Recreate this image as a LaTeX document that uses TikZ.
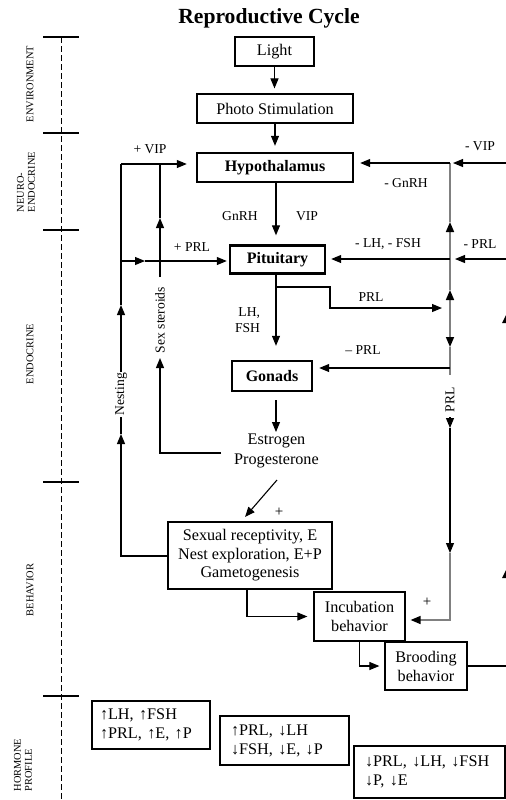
\documentclass[tikz,border=0pt]{standalone}
\usepackage{fontspec}
\setmainfont{Liberation Serif}
\usetikzlibrary{arrows.meta,calc}
\begin{document}
\begin{tikzpicture}[x=0.5pt,y=-0.5pt,
 box/.style={draw,line width=0.6pt,inner sep=0pt,align=center,font=\fontsize{8.1}{9.4}\selectfont},
 bbox/.style={draw,line width=1.2pt,inner sep=0pt,font=\bfseries\fontsize{8}{9.6}\selectfont},
 hbox/.style={draw,line width=0.6pt,inner ysep=0pt,align=left,font=\fontsize{8.1}{9.5}\selectfont},
 lbl/.style={inner sep=0pt,font=\fontsize{6.8}{8}\selectfont},
 side/.style={inner sep=0pt,rotate=90,align=left,font=\fontsize{5.2}{5.4}\selectfont},
 arr/.style={-{Triangle[length=5pt,width=4pt]}},
 garr/.style={-{Triangle[length=5pt,width=4pt,color=black]}},
 ln/.style={line width=0.55pt},
 gl/.style={line width=0.75pt,draw=black!50},
 tick/.style={line width=1pt},
]
\useasboundingbox (0,0) rectangle (506,800);
% title
\node[inner sep=0pt,font=\bfseries\fontsize{10.8}{13}\selectfont] (title) at (269,18) {Reproductive Cycle};
% timeline
\draw[line width=0.5pt,dash pattern=on 3pt off 1.5pt] (61,37) -- (61,800);
\foreach \yy/\nm in {37/t1,133/t2,230/t3,482/t4,696/t5}{
  \coordinate (\nm) at (61,\yy);
  \draw[tick] ([xshift=-9pt]\nm) -- ([xshift=9pt]\nm);
}
\node[side] (env) at (30,84) {ENVIRONMENT};
\node[side] (neuro) at (26,182) {NEURO-\\ENDOCRINE};
\node[side] (endo) at (30,354) {ENDOCRINE};
\node[side] (beh) at (30,590) {BEHAVIOR};
\node[side] (hp) at (23,765) {HORMONE\\PROFILE};
% boxes
\node[box,minimum width=39.5pt,minimum height=14.5pt] (light) at (274.5,51.5) {Light};
\node[box,minimum width=78pt,minimum height=14.5pt] (photo) at (275,108.5) {Photo Stimulation};
\node[bbox,minimum width=78pt,minimum height=14.5pt] (hypo) at (275,167.5) {Hypothalamus};
\node[bbox,minimum width=47.5pt,minimum height=14pt] (pit) at (277.5,259.5) {Pituitary};
\node[bbox,minimum width=40pt,minimum height=15pt] (gon) at (272,376) {Gonads};
\node[inner sep=0pt,align=center,font=\fontsize{8.1}{10}\selectfont] (estro) at (276.5,451) {Estrogen\\Progesterone};
\node[box,font=\fontsize{8.1}{9.25}\selectfont,minimum width=82pt,minimum height=33.5pt] (sexual) at (250,555.5) {Sexual receptivity, E\\Nest exploration, E+P\\Gametogenesis};
\node[box,font=\fontsize{8.1}{9.5}\selectfont,minimum width=45.5pt,minimum height=24.5pt] (incub) at (359.5,616.5) {Incubation\\behavior};
\node[box,font=\fontsize{8.1}{9.5}\selectfont,minimum width=41pt,minimum height=24pt] (brood) at (426,666) {Brooding\\behavior};
\node[hbox,inner xsep=4pt,text width=51pt,minimum height=24pt] (h1) at (151,725) {↑LH, ↑FSH\\↑PRL, ↑E, ↑P};
\node[hbox,inner xsep=5.5pt,text width=53.5pt,minimum height=24.5pt] (h2) at (284.5,740.5) {↑PRL, ↓LH\\↓FSH, ↓E, ↓P};
\node[hbox,inner xsep=5.5pt,text width=64.5pt,minimum height=26pt] (h3) at (429.5,772) {↓PRL, ↓LH, ↓FSH\\↓P, ↓E};
% main chain
\coordinate (cx) at (276,0);
\draw[ln,arr,shorten >=2.5pt] (light.south) -- (light.south |- photo.north);
\draw[ln,arr,shorten >=3pt] (photo.south) -- (photo.south |- hypo.north);
\draw[ln,arr,shorten >=4.5pt] (hypo.south -| cx) -- (pit.north -| cx);
\node[lbl] (gnrh) at (240,216) {GnRH};
\node[lbl] (vip) at (307,216) {VIP};
\draw[ln,arr,shorten >=7pt] (pit.south -| cx) -- (gon.north -| cx);
\node[lbl,align=right] (lhfsh) at (247.5,320) {LH,\\FSH};
\coordinate (ge) at (276,432);
\draw[ln,arr,shorten <=4pt] (gon.south -| cx) -- (ge);
\coordinate (d1) at (277,480);
\coordinate (d2) at (245,517);
\draw[ln,arr] (d1) -- (d2);
\node[lbl,font=\fontsize{7.5}{8}\selectfont] (plus1) at (279,512) {+};
\draw[ln,arr,shorten >=3pt] ([xshift=-1.5pt]sexual.south) |- (incub.west);
\draw[ln,arr,shorten >=2.5pt] (incub.south) |- (brood.west);
\draw[ln] (brood.east) -- ++(45,0);
% left feedback
\coordinate (nT) at (121,164);
\coordinate (sT) at (160,164);
\draw[ln,arr,shorten >=4.5pt] (nT) -- (hypo.west |- nT);
\node[lbl] (lvip) at (150,149) {+ VIP};
\coordinate (nP) at (121,261);
\coordinate (nPa) at (145,261);
\draw[ln,arr] (nP) -- (nPa);
\draw[ln,arr,shorten >=1pt] (nPa) -- (pit.west |- nP);
\node[lbl] (lprl) at (192,247) {+ PRL};
\coordinate (nB) at (121,556);
\coordinate (nA1) at (121,434);
\coordinate (nL0) at (121,417);
\coordinate (nL1) at (121,372);
\coordinate (nA2) at (121,305);
\draw[ln,arr] (sexual.west |- nB) -- (nB) -- (nA1);
\draw[ln] (nA1) -- (nL0);
\node[lbl,rotate=90] (nest) at (121,394) {Nesting};
\draw[ln,arr] (nL1) -- (nA2);
\draw[ln] (nA2) -- (nT);
\coordinate (sE) at (221,453);
\coordinate (sB) at (160,453);
\coordinate (sA1) at (160,358);
\coordinate (sL) at (160,277);
\coordinate (sA2) at (160,218);
\draw[ln,arr] (sE) -- (sB) -- (sA1);
\node[lbl,rotate=90] (sex) at (160,320) {Sex steroids};
\draw[ln,arr] (sL) -- (sA2);
\draw[ln] (sA2) -- (sT);
% right feedback
\coordinate (J1) at (450,163);
\coordinate (J2) at (450,259);
\coordinate (R1) at (506,163);
\coordinate (R2) at (506,259);
\coordinate (gA1) at (450,222);
\coordinate (gP) at (450,308);
\coordinate (gU) at (450,290);
\coordinate (gD) at (450,347);
\coordinate (gG) at (450,368);
\coordinate (gE) at (450,375);
\draw[gl,garr] (J2) -- (gA1);
\draw[gl] (gA1) -- (J1);
\draw[gl,garr] (gP) -- (gU);
\draw[gl] (gU) -- (J2);
\draw[gl,garr] (gP) -- (gD);
\draw[gl] (gD) -- (gE);
\draw[ln,arr] (R1) -- ([xshift=1.5pt]J1);
\draw[ln,arr,shorten >=3pt] (J1) -- (hypo.east |- J1);
\node[lbl] (mvip) at (480,146) {- VIP};
\node[lbl] (mgnrh) at (406,183) {- GnRH};
\draw[ln,arr] (R2) -- ([xshift=2.5pt]J2);
\draw[ln,arr,shorten >=2.5pt] (J2) -- (pit.east |- J2);
\node[lbl] (mprl) at (480,244) {- PRL};
\node[lbl] (mlh) at (388,244) {- LH, - FSH};
\coordinate (pb1) at (276,287);
\coordinate (pb2) at (330,287);
\coordinate (pb3) at (330,308);
\draw[ln,arr] (pb1) -- (pb2) -- (pb3) -- ($(gP)+(-8,0)$);
\node[lbl] (lprl2) at (371,297) {PRL};
\draw[ln,arr,shorten >=3pt] (gG) -- (gon.east |- gG);
\node[lbl] (lmprl) at (363,350) {– PRL};
\node[lbl,rotate=90] (prlv) at (450,400) {PRL};
\coordinate (gL) at (450,417);
\coordinate (gA3) at (450,428);
\coordinate (gA4) at (450,553);
\coordinate (gC) at (450,620);
\draw[ln,arr] (gL) -- (gA3);
\draw[ln,arr] (gA3) -- (gA4);
\draw[gl,garr,shorten >=2.5pt] (gA4) -- (gC) -- (incub.east |- gC);
\node[lbl,font=\fontsize{7.5}{8}\selectfont] (plus2) at (427,602) {+};
% fragments at the cut edge
\fill (507,313) -- (502,323) -- (512,323) -- cycle;
\fill (507,568) -- (502,578) -- (512,578) -- cycle;
\end{tikzpicture}
\end{document}
